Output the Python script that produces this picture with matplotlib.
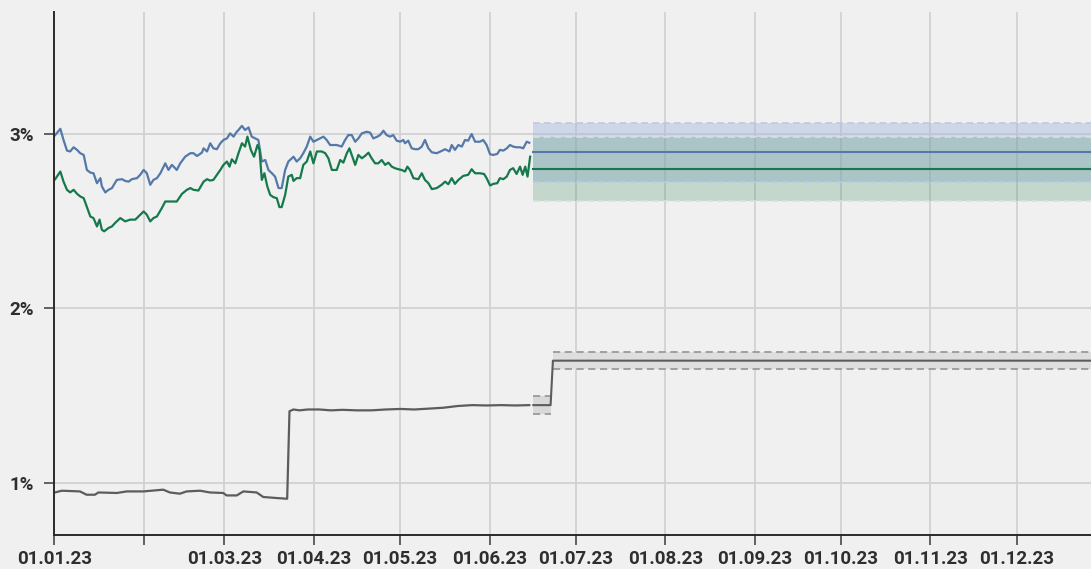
import numpy as np
import pandas as pd
import matplotlib
matplotlib.use('Agg')
import matplotlib.pyplot as plt

START = pd.Timestamp('2023-01-01')

# --- история: день от 01.01.23 и значение, %
blue_days = [0.3, 2.1, 3.2, 4.4, 5.5, 6.7, 7.9, 9.0, 10.2, 11.3, 12.5, 13.6, 14.8, 16.0, 16.5,
             17.7, 18.8, 20.0, 21.7, 23.5, 24.6, 25.8, 26.9, 28.7, 29.8, 31.0, 32.1, 33.3, 34.4,
             35.6, 36.8, 38.5, 39.6, 40.8, 42.5, 43.7, 45.4, 47.2, 48.3, 49.5, 51.2, 51.8, 53.0,
             54.1, 55.2, 56.4, 57.6, 58.7, 59.9, 61.0, 62.2, 63.3, 63.9, 65.1, 66.2, 67.4, 68.5,
             69.7, 70.8, 72.0, 73.2, 74.3, 75.5, 76.6, 77.8, 78.9, 80.1, 81.2, 83.0, 84.1, 85.3,
             86.4, 87.6, 88.8, 89.9, 91.1, 92.2, 93.4, 94.5, 95.7, 98.0, 99.7, 100.9, 102.0, 103.2,
             104.4, 105.5, 106.7, 108.4, 109.6, 110.7, 112.1, 113.0, 114.2, 115.3, 116.5, 117.6,
             118.8, 120.0, 121.1, 121.7, 122.8, 124.0, 125.2, 126.3, 127.5, 128.6, 129.8, 131.0,
             132.7, 134.4, 135.6, 137.1, 137.9, 139.0, 140.2, 141.4, 142.5, 143.6, 144.8, 146.0,
             147.7, 148.8, 150.0, 151.2, 152.3, 153.7, 154.6, 155.8, 157.0, 158.1, 159.2, 160.4,
             161.6, 162.7, 163.9, 164.8]
blue_vals = [2.994, 3.03, 2.966, 2.905, 2.90, 2.924, 2.909, 2.89, 2.88, 2.794, 2.779, 2.775, 2.718,
             2.747, 2.70, 2.665, 2.68, 2.69, 2.737, 2.741, 2.731, 2.727, 2.741, 2.747, 2.766, 2.794,
             2.775, 2.709, 2.737, 2.747, 2.775, 2.832, 2.794, 2.823, 2.794, 2.832, 2.87, 2.89, 2.89,
             2.874, 2.893, 2.918, 2.90, 2.947, 2.918, 2.913, 2.947, 2.966, 2.975, 3.004, 2.985,
             3.013, 3.023, 3.047, 3.023, 3.038, 2.985, 2.975, 2.966, 2.842, 2.851, 2.794, 2.775,
             2.756, 2.69, 2.69, 2.794, 2.842, 2.87, 2.842, 2.861, 2.89, 2.928, 2.985, 2.956, 2.966,
             2.975, 2.985, 2.966, 2.937, 2.937, 2.928, 2.966, 2.994, 2.994, 2.956, 2.975, 3.004,
             3.013, 3.008, 2.975, 2.985, 2.994, 3.019, 2.994, 2.985, 2.994, 2.962, 2.956, 2.966,
             2.947, 2.962, 2.918, 2.913, 2.913, 2.928, 2.966, 2.918, 2.895, 2.89, 2.903, 2.913,
             2.90, 2.937, 2.909, 2.937, 2.928, 2.966, 2.962, 3.00, 2.956, 2.956, 2.966, 2.937,
             2.884, 2.88, 2.886, 2.909, 2.905, 2.918, 2.937, 2.928, 2.924, 2.924, 2.918, 2.956, 2.95]

green_days = [0.3, 2.1, 3.2, 4.4, 5.5, 6.7, 7.9, 9.0, 10.2, 11.3, 12.5, 13.6, 14.8, 15.7, 16.5,
              17.3, 18.8, 20.0, 21.1, 22.9, 24.6, 26.3, 28.1, 29.8, 31.0, 32.1, 33.3, 34.4, 35.6,
              37.3, 38.5, 40.2, 42.5, 44.3, 46.0, 47.2, 48.3, 50.0, 51.8, 53.0, 54.1, 55.2, 56.4,
              57.6, 58.7, 59.9, 60.8, 61.6, 62.8, 63.9, 65.1, 66.2, 67.0, 68.2, 69.3, 70.5, 71.2,
              72.0, 72.9, 73.9, 74.9, 76.0, 77.2, 78.1, 78.9, 80.1, 81.2, 82.4, 83.0, 84.1, 85.3,
              86.4, 87.6, 88.8, 89.9, 91.1, 92.8, 94.0, 95.1, 96.3, 98.0, 99.2, 100.3, 101.5, 102.4,
              103.2, 104.4, 105.5, 106.7, 107.8, 109.0, 110.1, 111.3, 112.4, 113.6, 114.8, 115.9,
              117.1, 118.2, 119.4, 120.5, 121.7, 122.5, 123.4, 124.6, 126.3, 127.5, 128.6, 129.8,
              131.0, 132.7, 134.4, 135.6, 136.7, 137.9, 139.0, 140.2, 141.9, 143.6, 144.8, 146.0,
              147.7, 149.1, 150.0, 151.2, 152.3, 153.7, 154.6, 155.8, 157.0, 158.1, 159.2, 160.4,
              161.6, 162.5, 163.4, 164.2, 165.1]
green_vals = [2.741, 2.785, 2.727, 2.68, 2.665, 2.68, 2.657, 2.642, 2.632, 2.581, 2.527, 2.518,
              2.47, 2.509, 2.451, 2.442, 2.461, 2.47, 2.49, 2.518, 2.499, 2.509, 2.509, 2.537,
              2.556, 2.537, 2.499, 2.518, 2.527, 2.575, 2.613, 2.613, 2.613, 2.657, 2.68, 2.69,
              2.68, 2.676, 2.727, 2.741, 2.733, 2.737, 2.766, 2.794, 2.823, 2.842, 2.813, 2.855,
              2.832, 2.89, 2.947, 2.928, 2.985, 2.909, 2.87, 2.937, 2.909, 2.737, 2.775, 2.70,
              2.651, 2.638, 2.632, 2.581, 2.581, 2.651, 2.756, 2.766, 2.731, 2.747, 2.747, 2.823,
              2.842, 2.90, 2.832, 2.90, 2.90, 2.89, 2.861, 2.794, 2.794, 2.851, 2.836, 2.89, 2.918,
              2.88, 2.823, 2.88, 2.861, 2.874, 2.893, 2.861, 2.832, 2.832, 2.851, 2.823, 2.836,
              2.813, 2.804, 2.798, 2.794, 2.785, 2.813, 2.794, 2.747, 2.741, 2.775, 2.737, 2.718,
              2.684, 2.69, 2.709, 2.727, 2.712, 2.747, 2.714, 2.737, 2.76, 2.766, 2.798, 2.775,
              2.775, 2.771, 2.747, 2.705, 2.714, 2.718, 2.747, 2.741, 2.756, 2.794, 2.804, 2.771,
              2.813, 2.766, 2.813, 2.756, 2.87]

gray_days = [0.2, 2.6, 8.9, 11.2, 14.1, 15.3, 21.7, 25.1, 30.9, 37.8, 40.1, 43.6, 45.9, 50.6,
             54.0, 58.6, 59.8, 63.3, 65.6, 70.2, 72.5, 77.2, 80.8, 81.6, 83, 85, 88, 92, 96, 100,
             105, 110, 115, 120, 125, 130, 135, 140, 145, 150, 155, 160, 164.8]
gray_vals = [0.944, 0.954, 0.95, 0.931, 0.931, 0.944, 0.941, 0.95, 0.95, 0.96, 0.944, 0.937, 0.95,
             0.954, 0.944, 0.941, 0.927, 0.927, 0.95, 0.944, 0.918, 0.912, 0.908, 1.41, 1.42,
             1.415, 1.42, 1.42, 1.415, 1.418, 1.415, 1.415, 1.42, 1.423, 1.42, 1.425, 1.43, 1.44,
             1.445, 1.443, 1.445, 1.443, 1.445]

# --- прогноз
fc_start, fc_step, fc_end = 166.2, 172.2, 359.7
blue_fc, blue_lo, blue_hi = 2.897, 2.727, 3.065
green_fc, green_lo, green_hi = 2.798, 2.617, 2.985
gray_fc1, gray_lo1, gray_hi1 = 1.445, 1.395, 1.495
gray_fc2, gray_lo2, gray_hi2 = 1.70, 1.652, 1.747

months = pd.date_range('2023-01-01', '2023-12-01', freq='MS')
month_labels = [d.strftime('%d.%m.%y') for d in months]
month_labels[1] = ''


def to_dates(days):
    return START + pd.to_timedelta(np.asarray(days, dtype=float), unit='D')


BG = '#f0f0f0'
BLUE = '#5479a9'
GREEN = '#16794c'
GRAY = '#5c5c5c'
TXT = '#2e2e2e'

plt.rcParams['font.family'] = ['Roboto', 'DejaVu Sans']

fig = plt.figure(figsize=(10.91, 5.69), dpi=100, facecolor=BG)
ax = fig.add_axes([54.3 / 1091, 34 / 569, 1 - 54.3 / 1091, 523 / 569])
ax.set_facecolor(BG)

dash = (0, (4, 2.5))

# полосы прогноза
xs = to_dates([fc_start, fc_end])
ax.fill_between(xs, blue_lo, blue_hi, color='#9db2dc', alpha=0.4, lw=0)
ax.fill_between(xs, green_lo, green_hi, color='#3f8f68', alpha=0.25, lw=0)
for v in (blue_lo, blue_hi):
    ax.plot(xs, [v, v], color='#bcc9e6', lw=1.2, ls=dash)
for v in (green_lo, green_hi):
    ax.plot(xs, [v, v], color='#d6e2da', lw=1.2, ls=dash)
ax.plot(xs, [blue_fc, blue_fc], color=BLUE, lw=1.5)
ax.plot(xs, [green_fc, green_fc], color=GREEN, lw=1.5)

xs1 = to_dates([fc_start, fc_step])
xs2 = to_dates([fc_step + 0.8, fc_end])
ax.fill_between(xs1, gray_lo1, gray_hi1, color='#d8d8d8', lw=0)
ax.fill_between(xs2, gray_lo2, gray_hi2, color='#dedede', lw=0)
for v in (gray_lo1, gray_hi1):
    ax.plot(xs1, [v, v], color='#9a9a9a', lw=1.3, ls=dash)
for v in (gray_lo2, gray_hi2):
    ax.plot(xs2, [v, v], color='#9a9a9a', lw=1.3, ls=dash)
ax.plot(to_dates([fc_start, fc_step, fc_step + 0.8, fc_end]),
        [gray_fc1, gray_fc1, gray_fc2, gray_fc2], color=GRAY, lw=1.5)

# история
ax.plot(to_dates(blue_days), blue_vals, color=BLUE, lw=1.6)
ax.plot(to_dates(green_days), green_vals, color=GREEN, lw=1.6)
ax.plot(to_dates(gray_days), gray_vals, color=GRAY, lw=1.6)

ax.set_xlim(to_dates([0, fc_end]))
ax.set_ylim(0.7, 3.7)

ax.set_xticks(months)
ax.set_xticklabels(month_labels)
ax.set_yticks([1, 2, 3])
ax.set_yticklabels(['1%', '2%', '3%'])

ax.grid(True, color='#d2d2d2', lw=1.3)
ax.set_axisbelow(True)
for s in ('top', 'right'):
    ax.spines[s].set_visible(False)
for s in ('left', 'bottom'):
    ax.spines[s].set_color('#2a2a2a')
    ax.spines[s].set_linewidth(1.4)

ax.tick_params(axis='both', length=7, width=1.3, color='#555555', labelcolor=TXT,
               labelsize=13.5)
ax.tick_params(axis='y', pad=8)
ax.tick_params(axis='x', pad=4)
for lab in ax.get_xticklabels() + ax.get_yticklabels():
    lab.set_fontweight('bold')

fig.savefig('out.png', dpi=100, facecolor=BG)
